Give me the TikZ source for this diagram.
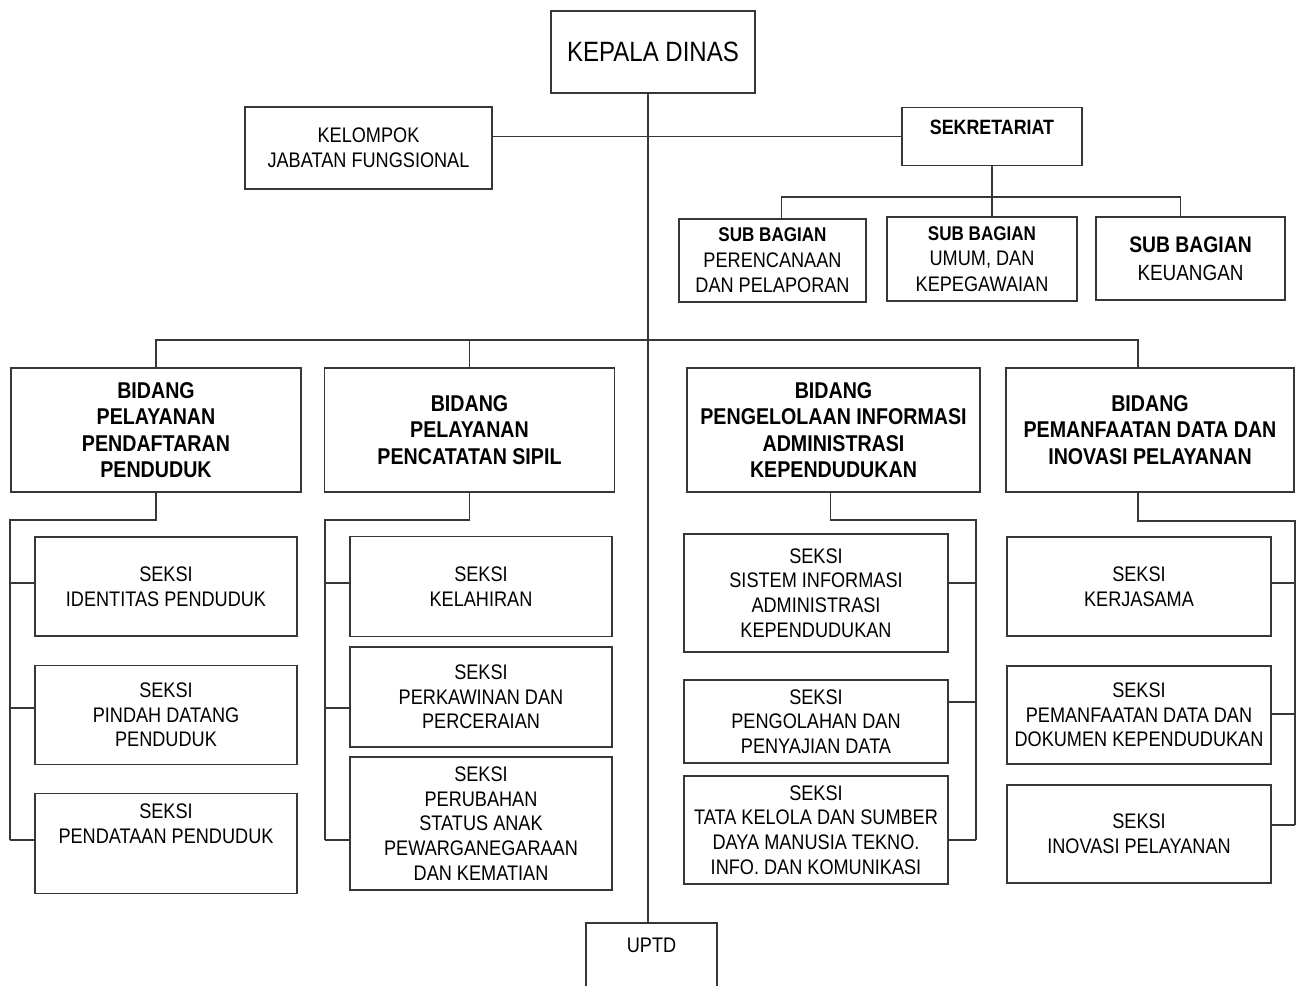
\documentclass[tikz,border=0pt]{standalone}
\usepackage{fontspec}
\setmainfont{Liberation Sans}[FakeStretch=0.86]
\usetikzlibrary{positioning,calc}
\definecolor{garis}{RGB}{55,55,55}

\begin{document}
\begin{tikzpicture}[x=0.02cm, y=-0.02cm, line width=1pt, draw=garis,
    kotak/.style={draw=garis, line width=1.1pt, rectangle, inner sep=0pt, align=center},
    ukuran/.style 2 args={minimum width=#1*0.02cm, minimum height=#2*0.02cm},
    teks/.style={font=\fontsize{12}{14}\selectfont, align=center},
    tebal/.style={font=\bfseries\fontsize{13}{15}\selectfont}]

    \useasboundingbox (0,0) rectangle (1297,986);
    \fill[white] (0,0) rectangle (1297,986);
    \clip (0,0) rectangle (1297,986);

    % pimpinan dan sekretariat
    \node[kotak, ukuran={204}{82}, font=\fontsize{15.9}{18}\selectfont] (kepala) at (653,52) {KEPALA DINAS};
    \node[kotak, ukuran={247}{82}, teks] (kelompok) at (368.5,148) {KELOMPOK\\JABATAN FUNGSIONAL};
    \node[kotak, ukuran={180}{58},
        label={[font=\bfseries\fontsize{11.8}{14}\selectfont, yshift=5.4pt]center:SEKRETARIAT}] (sek) at (992,136.5) {};

    \node[kotak, ukuran={187}{83}, font=\fontsize{12}{14.5}\selectfont] (sub1) at (772.5,260.5)
        {{\bfseries\fontsize{11.3}{14.5}\selectfont SUB BAGIAN}\\PERENCANAAN\\DAN PELAPORAN};
    \node[kotak, ukuran={190}{84}, font=\fontsize{12}{14.5}\selectfont] (sub2) at (982,259)
        {{\bfseries\fontsize{11.3}{14.5}\selectfont SUB BAGIAN}\\UMUM, DAN\\KEPEGAWAIAN};
    \node[kotak, ukuran={189}{83}, font=\fontsize{12.5}{15.9}\selectfont] (sub3) at (1190.5,258.5)
        {{\bfseries\fontsize{12.8}{15.9}\selectfont SUB BAGIAN}\\KEUANGAN};

    % bidang
    \node[kotak, ukuran={290}{124}, tebal] (bid1) at (156,430) {BIDANG\\PELAYANAN\\PENDAFTARAN\\PENDUDUK};
    \node[kotak, ukuran={290}{124}, tebal] (bid2) at (469.5,430) {BIDANG\\PELAYANAN\\PENCATATAN SIPIL};
    \node[kotak, ukuran={293}{124}, tebal] (bid3) at (833.5,430) {BIDANG\\PENGELOLAAN INFORMASI\\ADMINISTRASI\\KEPENDUDUKAN};
    \node[kotak, ukuran={288}{124}, tebal] (bid4) at (1150,430) {BIDANG\\PEMANFAATAN DATA DAN\\INOVASI PELAYANAN};

    % seksi
    \node[kotak, ukuran={262}{99}, teks] (s11) at (166,586.5) {SEKSI\\IDENTITAS PENDUDUK};
    \node[kotak, ukuran={262}{99}, teks] (s12) at (166,715) {SEKSI\\PINDAH DATANG\\PENDUDUK};
    \node[kotak, ukuran={262}{100},
        label={[teks, yshift=11.3pt]center:{SEKSI\\PENDATAAN PENDUDUK}}] (s13) at (166,843.5) {};

    \node[kotak, ukuran={262}{100}, teks] (s21) at (481,586.5) {SEKSI\\KELAHIRAN};
    \node[kotak, ukuran={262}{100}, teks] (s22) at (481,697) {SEKSI\\PERKAWINAN DAN\\PERCERAIAN};
    \node[kotak, ukuran={262}{133}, teks] (s23) at (481,823.5) {SEKSI\\PERUBAHAN\\STATUS ANAK\\PEWARGANEGARAAN\\DAN KEMATIAN};

    \node[kotak, ukuran={264}{118}, teks] (s31) at (816,593) {SEKSI\\SISTEM INFORMASI\\ADMINISTRASI\\KEPENDUDUKAN};
    \node[kotak, ukuran={264}{83}, teks] (s32) at (816,721.5) {SEKSI\\PENGOLAHAN DAN\\PENYAJIAN DATA};
    \node[kotak, ukuran={264}{108}, teks] (s33) at (816,830) {SEKSI\\TATA KELOLA DAN SUMBER\\DAYA MANUSIA TEKNO.\\INFO. DAN KOMUNIKASI};

    \node[kotak, ukuran={264}{99}, teks] (s41) at (1139,586.5) {SEKSI\\KERJASAMA};
    \node[kotak, ukuran={264}{98}, teks] (s42) at (1139,715) {SEKSI\\PEMANFAATAN DATA DAN\\DOKUMEN KEPENDUDUKAN};
    \node[kotak, ukuran={264}{98}, teks] (s43) at (1139,834) {SEKSI\\INOVASI PELAYANAN};

    \node[kotak, ukuran={131}{100}, label={[teks, yshift=15.9pt]center:UPTD}] (uptd) at (651.5,973) {};

    % garis utama
    \coordinate (spine) at (648,0);
    \draw (kepala.south -| spine) -- (uptd.north -| spine);
    \draw (kelompok.east |- sek.west) -- (sek.west);

    \coordinate (sb) at (992,197);
    \draw ($(sub1.north)+(9,0)$) |- (sb) -| ($(sub3.north)+(-10,0)$);
    \draw (sek.south) -- (sek.south |- sub2.north);

    \coordinate (mb) at (648,340);
    \draw (bid1.north) |- (mb) -| ($(bid4.north)+(-12,0)$);
    \draw (bid2.north) -- (bid2.north |- mb);
    \draw ($(bid3.north)+(-3,0)$) -- ($(bid3.north)+(-3,0)$ |- mb);

    % cabang seksi
    \coordinate (k1) at (10,520);
    \coordinate (k2) at (325,520);
    \coordinate (k3) at (976,520);
    \coordinate (k4) at (1295,521);

    \draw (bid1.south) |- (k1) -- (k1 |- 0,840);
    \draw (bid2.south) |- (k2) -- (k2 |- 0,840);
    \draw ($(bid3.south)+(-3,0)$) |- (k3) -- (k3 |- 0,840);
    \draw ($(bid4.south)+(-12,0)$) |- (k4) -- (k4 |- 0,825);

    \foreach \n/\y in {s11/583, s12/708, s13/840}
        \draw (\n.west |- 0,\y) -- (k1 |- 0,\y);
    \foreach \n/\y in {s21/583, s22/708, s23/840}
        \draw (\n.west |- 0,\y) -- (k2 |- 0,\y);
    \foreach \n/\y in {s31/583, s32/702, s33/840}
        \draw (\n.east |- 0,\y) -- (k3 |- 0,\y);
    \foreach \n/\y in {s41/583, s42/714, s43/825}
        \draw (\n.east |- 0,\y) -- (k4 |- 0,\y);

\end{tikzpicture}
\end{document}
